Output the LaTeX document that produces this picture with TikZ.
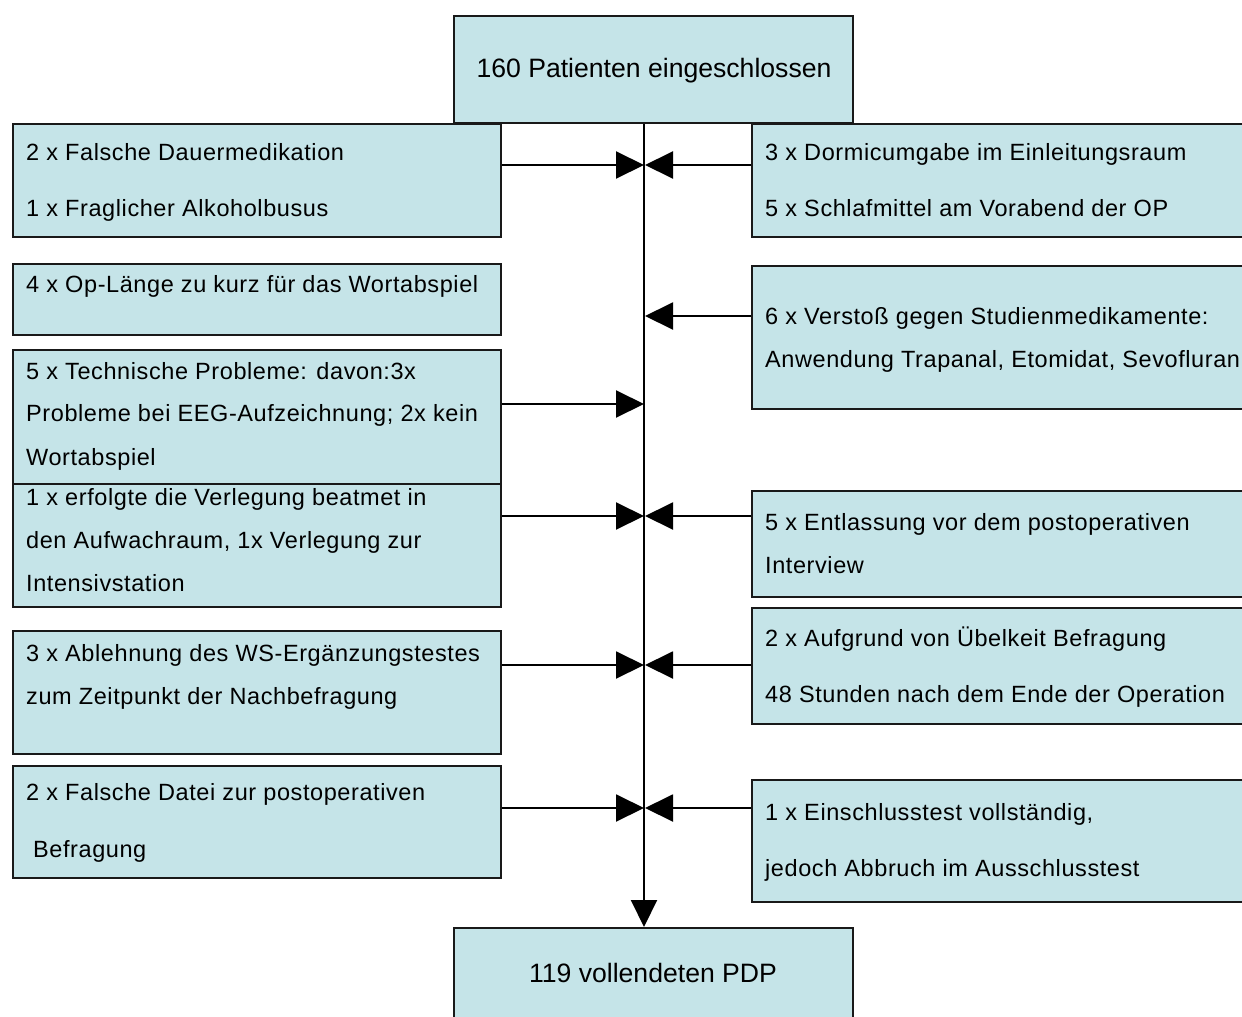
\documentclass[tikz,border=0pt]{standalone}
\usepackage{fontspec}
\setmainfont{Liberation Sans}
\newfontfamily\boxfont{Liberation Sans}[LetterSpace=2.5]
\usetikzlibrary{arrows.meta}
\definecolor{boxfill}{RGB}{197,228,232}
\definecolor{boxline}{RGB}{25,25,25}
\tikzset{
  box/.style={draw=boxline, line width=2pt, fill=boxfill, inner sep=0pt, anchor=north west, rectangle},
  txt/.style={anchor=base west, inner sep=0pt, font=\boxfont\fontsize{23.5}{28}\selectfont},
  bigtxt/.style={anchor=base, inner sep=0pt, font=\fontsize{26.6}{31}\selectfont},
  arr/.style={line width=2pt, -{Triangle[length=28pt,width=27pt]}},
  darr/.style={line width=2pt, -{Triangle[length=27pt,width=26pt]}}
}
\begin{document}
\begin{tikzpicture}[x=1pt,y=-1pt]
\useasboundingbox (0,0) rectangle (1242,1017);
% top and bottom
\node[box, minimum width=399pt, minimum height=107pt] (top) at (453,15) {};
\node[bigtxt] (toptxt) at (654,77) {160 Patienten eingeschlossen};
\node[box, minimum width=399pt, minimum height=100pt] (bot) at (453,927) {};
\node[bigtxt] (bottxt) at (653,982) {119 vollendeten PDP};
\coordinate (spine) at (644,0);
% left boxes
\node[box, minimum width=488pt, minimum height=113pt] (l1) at (12,123) {};
\node[txt] (l1a) at (26,160.5) {2 x Falsche Dauermedikation};
\node[txt] (l1b) at (26,216.5) {1 x Fraglicher Alkoholbusus};
\node[box, minimum width=488pt, minimum height=71pt] (l2) at (12,263) {};
\node[txt] (l2a) at (26,292.5) {4 x Op-Länge zu kurz für das Wortabspiel};
\node[box, minimum width=488pt, minimum height=134pt] (l3) at (12,349) {};
\node[txt] (l3a) at (26,379.5) {5 x Technische Probleme: davon:3x};
\node[txt] (l3b) at (26,421.5) {Probleme bei EEG-Aufzeichnung; 2x kein};
\node[txt] (l3c) at (26,465.5) {Wortabspiel};
\node[box, minimum width=488pt, minimum height=123pt] (l4) at (12,483) {};
\node[txt] (l4a) at (26,505.5) {1 x erfolgte die Verlegung beatmet in};
\node[txt] (l4b) at (26,548.5) {den Aufwachraum, 1x Verlegung zur};
\node[txt] (l4c) at (26,591.5) {Intensivstation};
\node[box, minimum width=488pt, minimum height=123pt] (l5) at (12,630) {};
\node[txt] (l5a) at (26,661.5) {3 x Ablehnung des WS-Ergänzungstestes};
\node[txt] (l5b) at (26,704.5) {zum Zeitpunkt der Nachbefragung};
\node[box, minimum width=488pt, minimum height=112pt] (l6) at (12,765) {};
\node[txt] (l6a) at (26,800.5) {2 x Falsche Datei zur postoperativen};
\node[txt] (l6b) at (33,857.5) {Befragung};
% right boxes
\node[box, minimum width=500pt, minimum height=113pt] (r1) at (751,123) {};
\node[txt] (r1a) at (765,160.5) {3 x Dormicumgabe im Einleitungsraum};
\node[txt] (r1b) at (765,216.5) {5 x Schlafmittel am Vorabend der OP};
\node[box, minimum width=500pt, minimum height=143pt] (r2) at (751,265) {};
\node[txt] (r2a) at (765,324.5) {6 x Verstoß gegen Studienmedikamente:};
\node[txt] (r2b) at (765,367.5) {Anwendung Trapanal, Etomidat, Sevofluran};
\node[box, minimum width=500pt, minimum height=106pt] (r3) at (751,490) {};
\node[txt] (r3a) at (765,530.5) {5 x Entlassung vor dem postoperativen};
\node[txt] (r3b) at (765,573.5) {Interview};
\node[box, minimum width=500pt, minimum height=116pt] (r4) at (751,607) {};
\node[txt] (r4a) at (765,646.5) {2 x Aufgrund von Übelkeit Befragung};
\node[txt] (r4b) at (765,702.5) {48 Stunden nach dem Ende der Operation};
\node[box, minimum width=500pt, minimum height=122pt] (r5) at (751,779) {};
\node[txt] (r5a) at (765,820.5) {1 x Einschlusstest vollständig,};
\node[txt] (r5b) at (765,876.5) {jedoch Abbruch im Ausschlusstest};
% arrow targets
\coordinate (p1) at (644,165);
\coordinate (p3) at (644,404);
\coordinate (p4) at (644,516);
\coordinate (p5) at (644,665);
\coordinate (p6) at (644,808);
\coordinate (q1) at (645,165);
\coordinate (q2) at (645,316);
\coordinate (q3) at (645,516);
\coordinate (q4) at (645,665);
\coordinate (q5) at (645,808);
% spine
\draw[darr] (top.south -| spine) -- (bot.north -| spine);
% left arrows
\draw[arr] (l1.east |- p1) -- (p1);
\draw[arr] (l3.east |- p3) -- (p3);
\draw[arr] (l4.east |- p4) -- (p4);
\draw[arr] (l5.east |- p5) -- (p5);
\draw[arr] (l6.east |- p6) -- (p6);
% right arrows
\draw[arr] (r1.west |- q1) -- (q1);
\draw[arr] (r2.west |- q2) -- (q2);
\draw[arr] (r3.west |- q3) -- (q3);
\draw[arr] (r4.west |- q4) -- (q4);
\draw[arr] (r5.west |- q5) -- (q5);
\end{tikzpicture}
\end{document}
